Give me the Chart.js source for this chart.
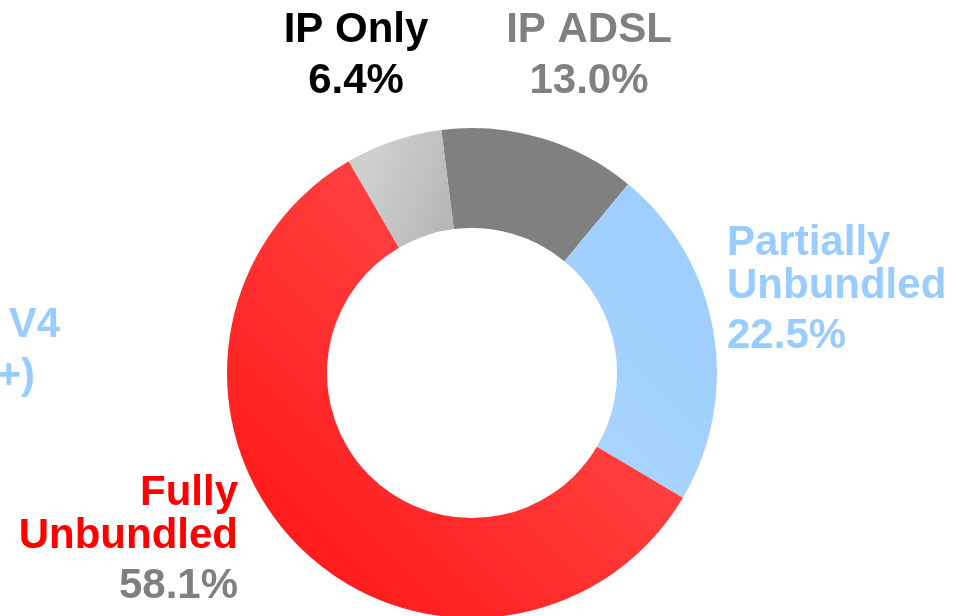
<!DOCTYPE html>
<html>
<head>
<meta charset="utf-8">
<title>Line type share</title>
<script src="https://cdn.jsdelivr.net/npm/chart.js@4/dist/chart.umd.min.js"></script>
<style>
  html, body { margin: 0; padding: 0; background: #fff; overflow: hidden; }
  #wrap { width: 955px; height: 616px; }
</style>
</head>
<body>
<div id="wrap"><canvas id="shareChart" width="955" height="616"></canvas></div>
<script>
// data (percent of lines)
const categories = ['IP ADSL', 'Partially Unbundled', 'Fully Unbundled', 'IP Stream V4 (ADSL2+)', 'IP Only'];
const shares = [13.0, 22.5, 58.1, 0, 6.4];

// label text split into lines
const nameLines = [
    ['IP ADSL'],
    ['Partially', 'Unbundled'],
    ['Fully', 'Unbundled'],
    ['IP Stream V4', '(ADSL2+)'],
    ['IP Only']
];

// where each label sits (baselines in px), its alignment and colours
const labelLayout = [
    { x: 589, align: 'center', ys: [42, 93], name: '#808080', pct: '#808080' },
    { x: 727, align: 'left', ys: [255, 298, 348], name: '#99ccff', pct: '#99ccff' },
    { x: 238, align: 'right', ys: [505, 548, 598], name: '#ff0000', pct: '#808080' },
    { x: 60, align: 'right', ys: [337, 388], xs: [60, 35], name: '#99ccff', noPct: true },
    { x: 356, align: 'center', ys: [42, 93], name: '#000000', pct: '#000000' }
];

// slice fills: gradient stops, direction given as unit offsets from centre
const sliceFills = [
    { from: [-1, -1], to: [1, 1], stops: ['#808080', '#808080'] },
    { from: [-1, 1], to: [1, -1], stops: ['#b8dcff', '#99ccff'] },
    { from: [-1, 1], to: [1, -1], stops: ['#ff1010', '#ff6060'] },
    { from: [-1, 1], to: [1, -1], stops: ['#b8dcff', '#99ccff'] },
    { from: [-0.6, -0.4], to: [-0.1, -0.2], stops: ['#cfcfcf', '#adadad'] }
];

function sliceColor(context) {
    const chart = context.chart;
    const area = chart.chartArea;
    const f = sliceFills[context.dataIndex];
    if (!area) return f.stops[1];
    const cx = (area.left + area.right) / 2;
    const cy = (area.top + area.bottom) / 2;
    const r = 245;
    const g = chart.ctx.createLinearGradient(
        cx + f.from[0] * r, cy + f.from[1] * r,
        cx + f.to[0] * r, cy + f.to[1] * r);
    g.addColorStop(0, f.stops[0]);
    g.addColorStop(1, f.stops[1]);
    return g;
}

const labelPlugin = {
    id: 'sliceLabels',
    afterDraw(chart) {
        const ctx = chart.ctx;
        ctx.save();
        ctx.font = 'bold 42px "Liberation Sans", Arial, sans-serif';
        ctx.textBaseline = 'alphabetic';
        categories.forEach(function(cat, i) {
            const lay = labelLayout[i];
            const lines = nameLines[i].slice();
            const colors = lines.map(function() { return lay.name; });
            if (!lay.noPct) {
                lines.push(shares[i].toFixed(1) + '%');
                colors.push(lay.pct);
            }
            ctx.textAlign = lay.align;
            lines.forEach(function(txt, k) {
                ctx.fillStyle = colors[k];
                const x = lay.xs ? lay.xs[k] : lay.x;
                ctx.fillText(txt, x, lay.ys[k]);
            });
        });
        ctx.restore();
    }
};

const ctxShare = document.getElementById('shareChart').getContext('2d');
new Chart(ctxShare, {
    type: 'doughnut',
    data: {
        labels: categories,
        datasets: [{
            data: shares,
            backgroundColor: sliceColor,
            borderWidth: 0,
            radius: 245,
            cutout: '59.2%'
        }]
    },
    options: {
        responsive: false,
        animation: false,
        rotation: -7.2,
        layout: {
            padding: { left: 0, right: 11, top: 130, bottom: 0 }
        },
        plugins: {
            legend: { display: false },
            tooltip: { enabled: false }
        }
    },
    plugins: [labelPlugin]
});
</script>
</body>
</html>
